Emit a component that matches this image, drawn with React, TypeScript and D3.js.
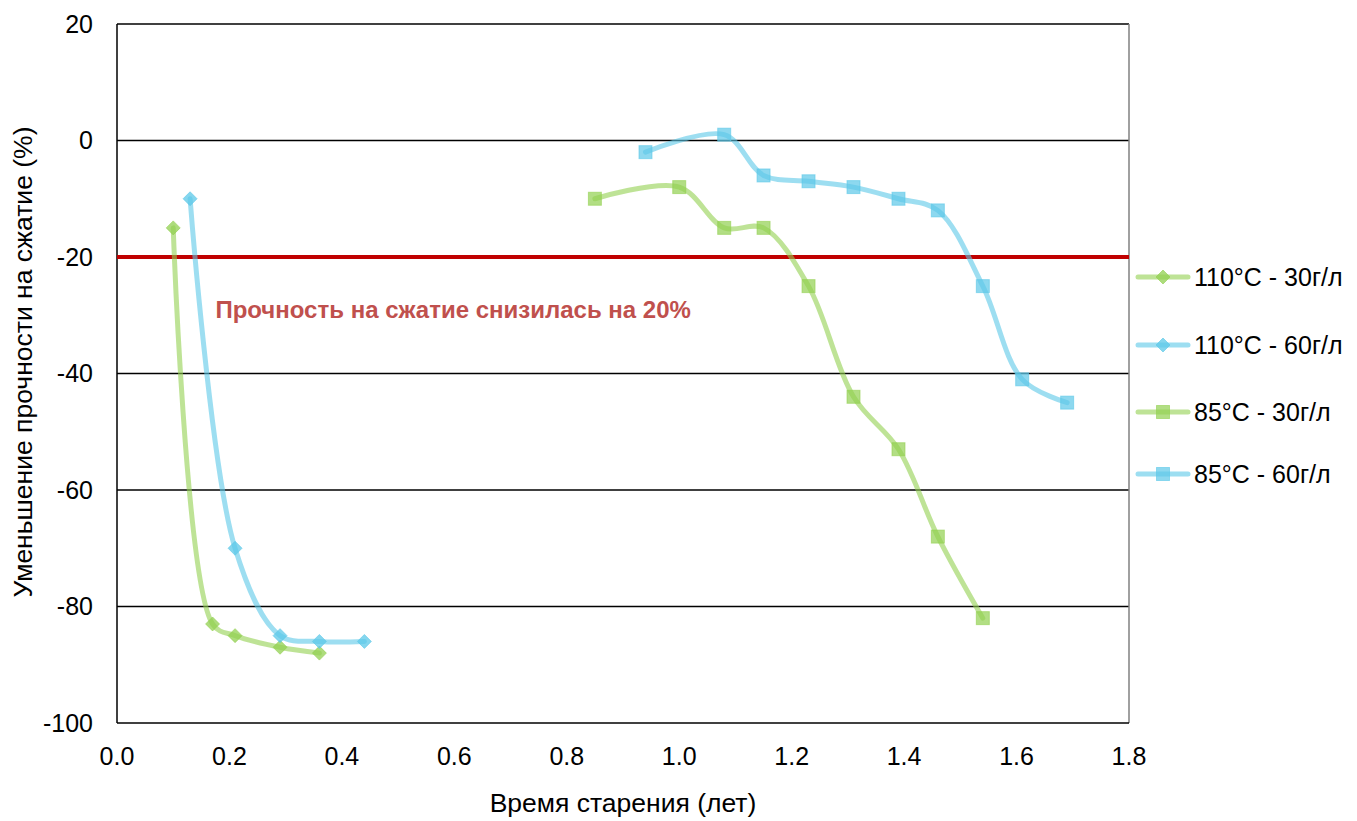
import * as d3 from 'd3';
import * as React from 'react';

const { useRef, useEffect } = React;

const width = 1357;
const height = 821;
const margin = { top: 24, right: 228, bottom: 98, left: 117 };

// ages in years, strength change in %
const x110_30 = [0.1, 0.17, 0.21, 0.29, 0.36];
const y110_30 = [-15, -83, -85, -87, -88];
const x110_60 = [0.13, 0.21, 0.29, 0.36, 0.44];
const y110_60 = [-10, -70, -85, -86, -86];
const x85_30 = [0.85, 1.0, 1.08, 1.15, 1.23, 1.31, 1.39, 1.46, 1.54];
const y85_30 = [-10, -8, -15, -15, -25, -44, -53, -68, -82];
const x85_60 = [0.94, 1.08, 1.15, 1.23, 1.31, 1.39, 1.46, 1.54, 1.61, 1.69];
const y85_60 = [-2, 1, -6, -7, -8, -10, -12, -25, -41, -45];

const seriesNames = ['110°C - 30г/л', '110°C - 60г/л', '85°C - 30г/л', '85°C - 60г/л'];
const xTicks = [0, 0.2, 0.4, 0.6, 0.8, 1.0, 1.2, 1.4, 1.6, 1.8];
const yTicks = [20, 0, -20, -40, -60, -80, -100];
const limitValue = -20;
const limitLabel = 'Прочность на сжатие снизилась на 20%';

const green = '#92D050';
const blue = '#5CC8E8';

type Series = { name: string; xs: number[]; ys: number[]; color: string; shape: 'diamond' | 'square' };

const series: Series[] = [
  { name: seriesNames[0], xs: x110_30, ys: y110_30, color: green, shape: 'diamond' },
  { name: seriesNames[1], xs: x110_60, ys: y110_60, color: blue, shape: 'diamond' },
  { name: seriesNames[2], xs: x85_30, ys: y85_30, color: green, shape: 'square' },
  { name: seriesNames[3], xs: x85_60, ys: y85_60, color: blue, shape: 'square' },
];

const font = 'Arial, "Liberation Sans", sans-serif';

export default () => {
  const rootRef = useRef<HTMLDivElement>(null);

  useEffect(() => {
    const rootEl = rootRef.current;
    if (!rootEl) return;
    rootEl.innerHTML = '';

    const x = d3.scaleLinear().domain([0, 1.8]).range([margin.left, width - margin.right]);
    const y = d3.scaleLinear().domain([-100, 20]).range([height - margin.bottom, margin.top]);

    const svg = d3
      .select(rootEl)
      .append('svg')
      .attr('width', width)
      .attr('height', height)
      .style('position', 'absolute')
      .style('left', 0)
      .style('top', 0)
      .style('background', '#fff')
      .attr('font-family', font);

    // gridlines
    svg
      .append('g')
      .selectAll('line')
      .data(yTicks.filter(t => t !== -100))
      .join('line')
      .attr('x1', x(0))
      .attr('x2', x(1.8))
      .attr('y1', d => y(d))
      .attr('y2', d => y(d))
      .attr('stroke', '#000')
      .attr('stroke-width', 1.5);

    // right border
    svg
      .append('line')
      .attr('x1', x(1.8))
      .attr('x2', x(1.8))
      .attr('y1', y(20))
      .attr('y2', y(-100))
      .attr('stroke', '#808080')
      .attr('stroke-width', 1.5);

    // axes lines
    svg
      .append('line')
      .attr('x1', x(0))
      .attr('x2', x(1.8))
      .attr('y1', y(-100))
      .attr('y2', y(-100))
      .attr('stroke', '#000')
      .attr('stroke-width', 1.5);
    svg
      .append('line')
      .attr('x1', x(0))
      .attr('x2', x(0))
      .attr('y1', y(20))
      .attr('y2', y(-100))
      .attr('stroke', '#000')
      .attr('stroke-width', 1.5);

    // tick labels
    svg
      .append('g')
      .selectAll('text')
      .data(yTicks)
      .join('text')
      .attr('x', x(0) - 24)
      .attr('y', d => y(d))
      .attr('dy', '0.35em')
      .attr('text-anchor', 'end')
      .attr('font-size', 25)
      .text(d => String(d));

    svg
      .append('g')
      .selectAll('text')
      .data(xTicks)
      .join('text')
      .attr('x', d => x(d))
      .attr('y', y(-100) + 42)
      .attr('text-anchor', 'middle')
      .attr('font-size', 25)
      .text(d => d.toFixed(1));

    // axis titles
    svg
      .append('text')
      .attr('x', x(0.9))
      .attr('y', 812)
      .attr('text-anchor', 'middle')
      .attr('font-size', 26.5)
      .text('Время старения (лет)');

    svg
      .append('text')
      .attr('transform', `translate(32,362) rotate(-90)`)
      .attr('text-anchor', 'middle')
      .attr('font-size', 26.5)
      .text('Уменьшение прочности на сжатие (%)');

    // limit line
    svg
      .append('line')
      .attr('x1', x(0))
      .attr('x2', x(1.8))
      .attr('y1', y(limitValue))
      .attr('y2', y(limitValue))
      .attr('stroke', '#C00000')
      .attr('stroke-width', 4);

    svg
      .append('text')
      .attr('x', x(0.175))
      .attr('y', y(-29))
      .attr('dy', '0.35em')
      .attr('font-size', 24)
      .attr('font-weight', 'bold')
      .attr('fill', '#C0504D')
      .text(limitLabel);

    const line = d3
      .line<[number, number]>()
      .x(d => x(d[0]))
      .y(d => y(d[1]))
      .curve(d3.curveCatmullRom.alpha(0.5));

    const drawMarker = (
      g: d3.Selection<any, any, any, any>,
      cx: number,
      cy: number,
      s: Series,
    ) => {
      if (s.shape === 'diamond') {
        g.append('path')
          .attr('d', `M${cx},${cy - 7}L${cx + 7},${cy}L${cx},${cy + 7}L${cx - 7},${cy}Z`)
          .attr('fill', s.color)
          .attr('fill-opacity', 0.75)
          .attr('stroke', s.color)
          .attr('stroke-opacity', 0.6);
      } else {
        g.append('rect')
          .attr('x', cx - 6.5)
          .attr('y', cy - 6.5)
          .attr('width', 13)
          .attr('height', 13)
          .attr('fill', s.color)
          .attr('fill-opacity', 0.7)
          .attr('stroke', s.color)
          .attr('stroke-opacity', 0.6);
      }
    };

    series.forEach(s => {
      const pts = s.xs.map((v, i) => [v, s.ys[i]] as [number, number]);
      const g = svg.append('g');
      g.append('path')
        .attr('d', line(pts))
        .attr('fill', 'none')
        .attr('stroke', s.color)
        .attr('stroke-opacity', 0.6)
        .attr('stroke-width', 5)
        .attr('stroke-linecap', 'round');
      pts.forEach(p => drawMarker(g, x(p[0]), y(p[1]), s));
    });

    // legend
    const legendY = [277, 345, 412, 474];
    series.forEach((s, i) => {
      const g = svg.append('g');
      const ly = legendY[i];
      g.append('line')
        .attr('x1', 1138)
        .attr('x2', 1188)
        .attr('y1', ly)
        .attr('y2', ly)
        .attr('stroke', s.color)
        .attr('stroke-opacity', 0.6)
        .attr('stroke-width', 5)
        .attr('stroke-linecap', 'round');
      drawMarker(g, 1163, ly, s);
      g.append('text')
        .attr('x', 1194)
        .attr('y', ly)
        .attr('dy', '0.35em')
        .attr('font-size', 25)
        .text(s.name);
    });
  }, []);

  return <div ref={rootRef} />;
};
